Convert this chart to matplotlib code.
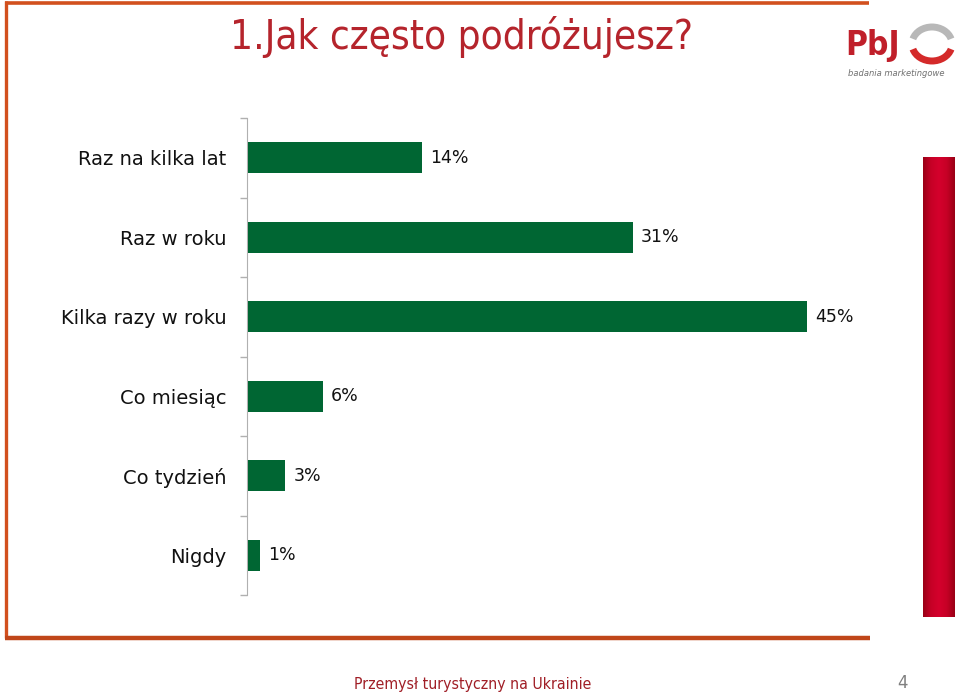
import matplotlib
matplotlib.use("Agg")
import matplotlib.pyplot as plt
import numpy as np
from matplotlib.patches import Arc

categories = ["Raz na kilka lat", "Raz w roku", "Kilka razy w roku",
              "Co miesiąc", "Co tydzień", "Nigdy"]
values = [14, 31, 45, 6, 3, 1]
title = "1.Jak często podróżujesz?"
footer = "Przemysł turystyczny na Ukrainie"
page_no = "4"

W, H = 959, 696
fig = plt.figure(figsize=(W / 100, H / 100), dpi=100)

# background layer in pixel coords
bg = fig.add_axes([0, 0, 1, 1])
bg.set_xlim(0, W)
bg.set_ylim(H, 0)
bg.axis("off")

frame_col = "#d2501e"
bg.plot([5, 869], [2.5, 2.5], color=frame_col, lw=2.6, solid_capstyle="butt")
bg.plot([6, 6], [1, 638], color=frame_col, lw=2.4, solid_capstyle="butt")
bg.plot([5, 870], [637.5, 637.5], color="#c0461a", lw=3.2, solid_capstyle="butt")

# red vertical bar with gradient
grad = np.abs(np.linspace(-1, 1, 64))
cmap = matplotlib.colors.LinearSegmentedColormap.from_list("r", ["#d4002c", "#c60026", "#9a0016"])
bg.imshow(grad[np.newaxis, :], extent=[923, 955, 617, 157], cmap=cmap, aspect="auto", zorder=1)

# title
bg.text(461, 37, title, color="#b5242c", fontsize=29, ha="center", va="center",
        family="DejaVu Sans", fontstretch="condensed")

# footer
bg.text(473, 685, footer, color="#a01e26", fontsize=11.3, ha="center", va="center",
        family="DejaVu Sans", fontstretch="condensed")
bg.text(903, 683, page_no, color="#808080", fontsize=12, ha="center", va="center")

# logo
bg.text(845, 46, "PbJ", color="#c01f2a", fontsize=24, fontweight="bold", ha="left", va="center",
        family="DejaVu Sans", fontstretch="condensed")
bg.add_patch(Arc((932, 44), 40, 34, theta1=195, theta2=345, color="#b8b8b8", lw=5))
bg.add_patch(Arc((932, 44), 40, 34, theta1=15, theta2=165, color="#d42a2a", lw=5))
bg.text(896, 74, "badania marketingowe", color="#707070", fontsize=6, style="italic",
        ha="center", va="center")

# chart
x0, x1 = 248, 869
y_top, y_bot = 118, 595
ax = fig.add_axes([x0 / W, 1 - y_bot / H, (x1 - x0) / W, (y_bot - y_top) / H])
ax.patch.set_alpha(0)
ypos = np.arange(len(categories))
ax.barh(ypos, values, height=0.39, color="#006633", zorder=3)
ax.set_xlim(0, 50)
ax.set_ylim(len(categories) - 0.5, -0.5)
ax.set_yticks(ypos)
ax.set_yticklabels(categories)
ax.set_yticks(np.arange(-0.5, len(categories)), minor=True)
ax.tick_params(axis="y", which="major", length=0, pad=14.5, labelsize=14, labelcolor="#111111")
ax.tick_params(axis="y", which="minor", length=5, color="#b0b0b0", width=1)
ax.set_xticks([])
for s in ["top", "right", "bottom"]:
    ax.spines[s].set_visible(False)
ax.spines["left"].set_color("#b0b0b0")
ax.spines["left"].set_position(("outward", 1))

for y, v in zip(ypos, values):
    ax.annotate(f"{v}%", (v, y), xytext=(8, 0), textcoords="offset pixels",
                va="center", ha="left", fontsize=12.5, family="DejaVu Sans", color="#111111")

fig.savefig("out.png", dpi=100)
